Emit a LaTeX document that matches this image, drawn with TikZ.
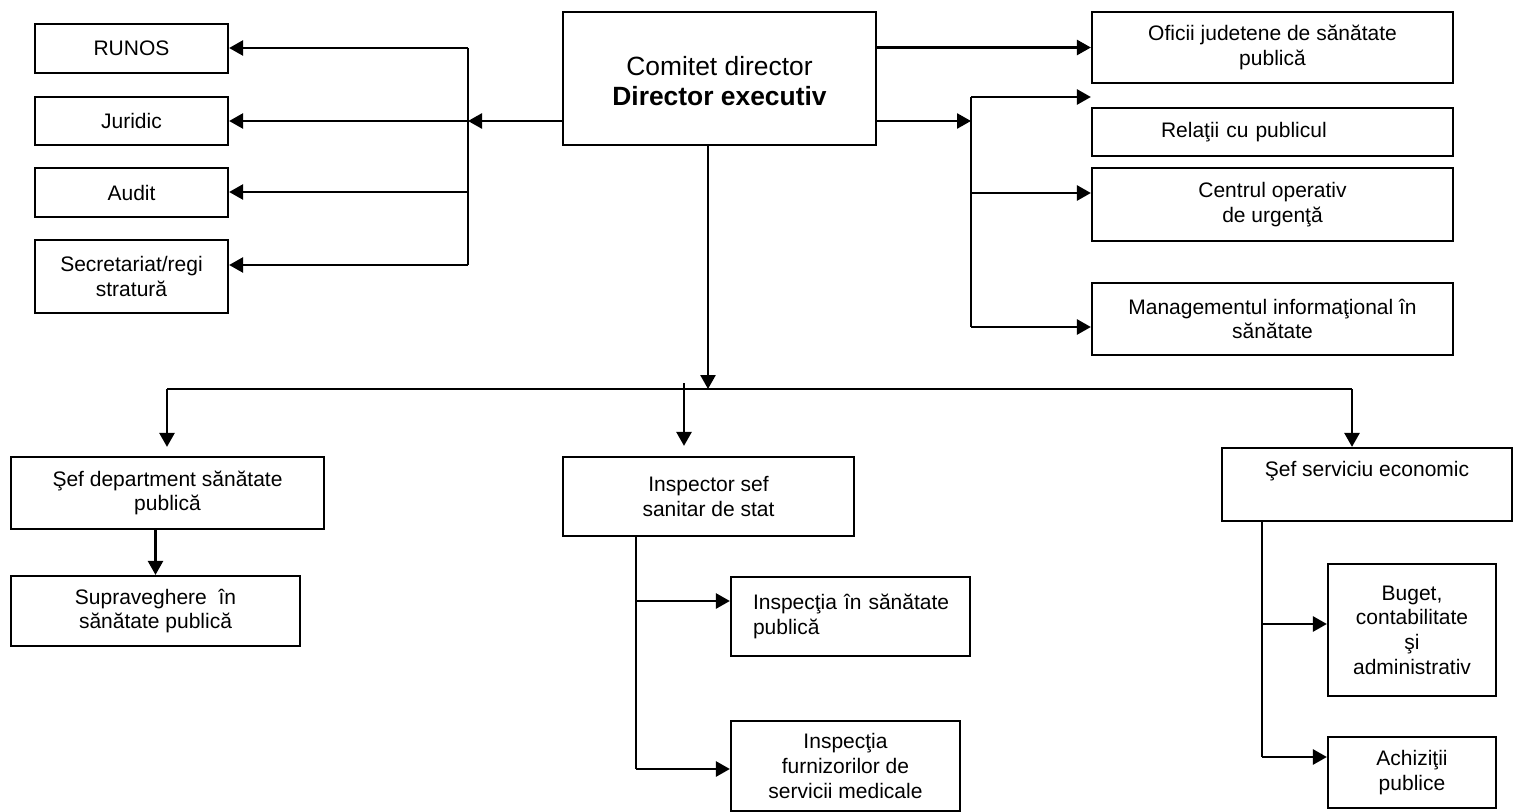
\documentclass[tikz,border=0pt]{standalone}
\usepackage{fontspec}
\setmainfont{Liberation Sans}
\usetikzlibrary{arrows.meta}
\begin{document}
\begin{tikzpicture}[x=0.5pt,y=-0.5pt,
  box/.style={draw=black,line width=1.1pt,inner sep=0pt,align=center,
    font=\fontsize{10.5}{12.3}\selectfont},
  bigbox/.style={box,font=\fontsize{13.2}{15}\selectfont},
  arr/.style={line width=1.3pt,-{Triangle[length=7pt,width=7.5pt]}},
  ln/.style={line width=1.2pt}]
\useasboundingbox (0,0) rectangle (1513,812);

% main
\node[bigbox,minimum width=156.5pt,minimum height=66.5pt] (main) at (719.5,78.5)
  {\raisebox{-3pt}[\height][\depth]{\begin{tabular}{@{}c@{}}Comitet director\\\textbf{Director executiv}\end{tabular}}};

% left column
\node[box,minimum width=96.5pt,minimum height=24.5pt] (runos) at (131.5,48.5) {RUNOS};
\node[box,minimum width=96.5pt,minimum height=24pt] (juridic) at (131.5,121) {Juridic};
\node[box,minimum width=96.5pt,minimum height=24.5pt] (audit) at (131.5,192.5) {Audit};
\node[box,minimum width=96.5pt,minimum height=36.5pt] (secr) at (131.5,276.5) {Secretariat/regi\\stratură};

% right column
\node[box,minimum width=180.5pt,minimum height=35.5pt] (oficii) at (1272.5,47.5) {Oficii judetene de sănătate\\publică};
\node[box,minimum width=180.5pt,minimum height=24pt,align=left,inner xsep=34.5pt,text width=111.5pt] (relatii) at (1272.5,132) {Relaţii cu publicul};
\node[box,minimum width=180.5pt,minimum height=36.5pt] (centrul) at (1272.5,204.5) {Centrul operativ\\de urgenţă};
\node[box,minimum width=180.5pt,minimum height=36pt] (mgmt) at (1272.5,319) {Managementul informaţional în\\sănătate};

% bottom level
\node[box,minimum width=156.5pt,minimum height=36pt] (sefdep) at (167.5,493) {Şef department sănătate\\publică};
\node[box,minimum width=144.5pt,minimum height=35pt] (superv) at (155.5,611) {Supraveghere \ în\\sănătate publică};
\node[box,minimum width=145.5pt,minimum height=39.5pt] (insp) at (708.5,496.5) {Inspector sef\\sanitar de stat};
\node[box,minimum width=119.5pt,minimum height=39.5pt,align=left,inner xsep=11pt,text width=97.5pt] (ins1) at (850.5,616.5) {\mbox{Inspecţia în sănătate}\\publică};
\node[box,minimum width=114.5pt,minimum height=45pt] (ins2) at (845.5,766) {Inspecţia\\furnizorilor de\\servicii medicale};
\node[box,minimum width=145pt,minimum height=36.5pt] (sefserv) at (1367,484.5) {Şef serviciu economic\\\strut};
\node[box,minimum width=84pt,minimum height=66pt] (buget) at (1412,630) {Buget,\\contabilitate\\şi\\administrativ};
\node[box,minimum width=84pt,minimum height=35.5pt] (achiz) at (1412,772.5) {Achiziţii\\publice};

% left bus
\coordinate (lb1) at (468,48);
\coordinate (lb2) at (468,121);
\coordinate (lb3) at (468,192);
\coordinate (lb4) at (468,265);
\draw[ln] (lb1) -- (lb4);
\draw[arr] (main.west |- lb2) -- (lb2);
\draw[arr] (lb1) -- (lb1 -| runos.east);
\draw[arr] (lb2) -- (lb2 -| juridic.east);
\draw[arr] (lb3) -- (lb3 -| audit.east);
\draw[arr] (lb4) -- (lb4 -| secr.east);

% right bus
\coordinate (rb0) at (971,97);
\coordinate (rb1) at (971,121);
\coordinate (rb2) at (971,193);
\coordinate (rb3) at (971,327);
\draw[ln] (rb0) -- (rb3);
\draw[arr] (main.east |- oficii.west) -- (oficii.west);
\draw[arr] (main.east |- rb1) -- (rb1);
\draw[arr] (rb0) -- (rb0 -| oficii.west);
\draw[arr] (rb2) -- (rb2 -| centrul.west);
\draw[arr] (rb3) -- (rb3 -| mgmt.west);

% bottom bus
\coordinate (bb) at (708,389);
\coordinate (bL) at (167,389);
\coordinate (bR) at (1352,389);
\coordinate (bM) at (684,383);
\draw[arr] (main.south -| bb) -- (bb);
\draw[ln] (bL) -- (bR);
\draw[arr,shorten >=4.5pt] (bL) -- (bL |- sefdep.north);
\draw[arr,shorten >=5pt] (bM) -- (bM |- insp.north);
\draw[arr] (bR) -- (bR |- sefserv.north);
\draw[arr] (sefdep.south -| superv.north) -- (superv.north);

% inspector branch
\coordinate (i1) at (636,601);
\coordinate (iv) at (636,769);
\draw[ln] (insp.south -| iv) -- (iv);
\draw[arr] (i1) -- (i1 -| ins1.west);
\draw[arr] (iv) -- (iv -| ins2.west);

% economic branch
\coordinate (e1) at (1262,624);
\coordinate (ev) at (1262,757);
\draw[ln] (sefserv.south -| ev) -- (ev);
\draw[arr] (e1) -- (e1 -| buget.west);
\draw[arr] (ev) -- (ev -| achiz.west);
\end{tikzpicture}
\end{document}
